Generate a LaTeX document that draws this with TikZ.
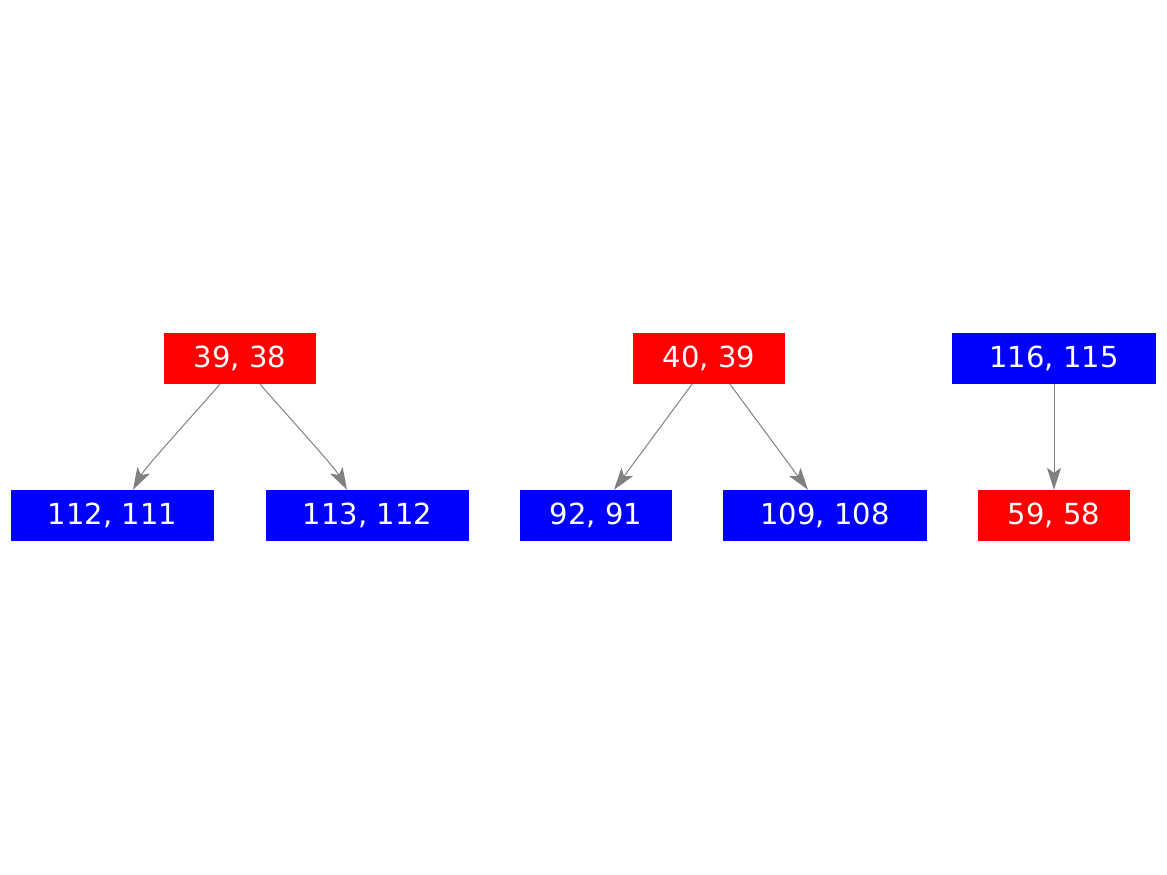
\documentclass[tikz,border=0pt]{standalone}
\usepackage{fontspec}
\setmainfont{DejaVu Sans}
\usetikzlibrary{arrows.meta}
\begin{document}
\begin{tikzpicture}[x=1pt,y=-1pt,
  box/.style={draw=none,minimum width=#1,minimum height=51pt,inner sep=0pt,text=white,font=\fontsize{29}{32}\selectfont},
  rbox/.style={box=#1,fill=red},
  bbox/.style={box=#1,fill=blue},
  edge/.style={draw=gray,line width=1pt,-{Stealth[length=22pt,width=14pt,inset=5pt]}}]
\useasboundingbox (0,0) rectangle (1167,875);
\node[rbox=152pt] (a) at (240,358.5) {39, 38};
\node[bbox=203pt] (b) at (112.5,515.5) {112, 111};
\node[bbox=203pt] (c) at (367.5,515.5) {113, 112};
\node[rbox=152pt] (d) at (709,358.5) {40, 39};
\node[bbox=152pt] (e) at (596,515.5) {92, 91};
\node[bbox=204pt] (f) at (825,515.5) {109, 108};
\node[bbox=204pt] (g) at (1054,358.5) {116, 115};
\node[rbox=152pt] (h) at (1054,515.5) {59, 58};
\draw[edge] ([xshift=-20pt]a.south) .. controls +(-28,32) and +(12,-22) .. ([xshift=20.5pt]b.north);
\draw[edge] ([xshift=20pt]a.south) .. controls +(28,32) and +(-12,-22) .. ([xshift=-20.5pt]c.north);
\draw[edge] ([xshift=-17pt]d.south) -- ([xshift=18pt]e.north);
\draw[edge] ([xshift=21pt]d.south) -- ([xshift=-17pt]f.north);
\draw[edge] (g) -- (h);
\end{tikzpicture}
\end{document}
